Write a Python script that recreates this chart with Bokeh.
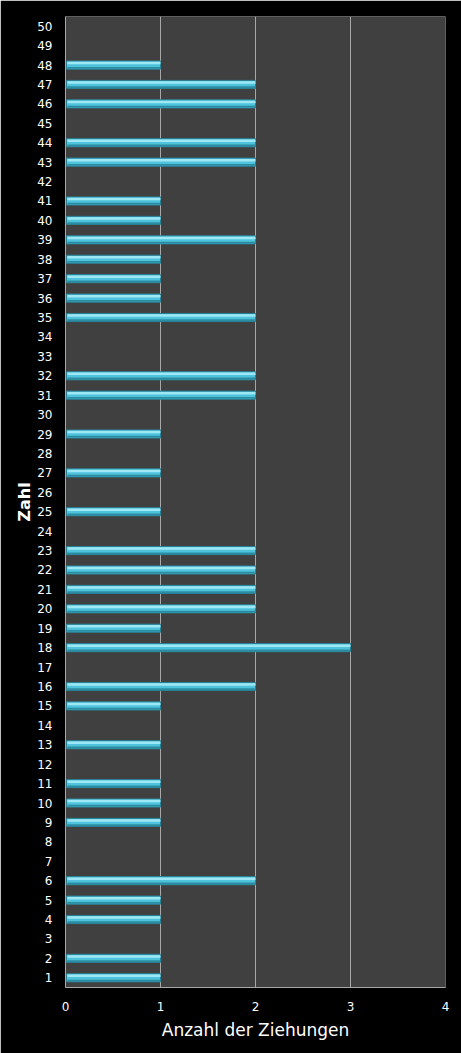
from bokeh.plotting import figure
from bokeh.models import ColumnDataSource, FixedTicker, Range1d
from bokeh.embed import file_html
from bokeh.resources import INLINE

numbers = list(range(1, 51))
counts = [1, 1, 0, 1, 1, 2, 0, 0, 1, 1,
          1, 0, 1, 0, 1, 2, 0, 3, 1, 2,
          2, 2, 2, 0, 1, 0, 1, 0, 1, 0,
          2, 2, 0, 0, 2, 1, 1, 1, 2, 1,
          1, 0, 2, 2, 0, 2, 2, 1, 0, 0]
x_ticks = [0, 1, 2, 3, 4]

ys = [n for n, c in zip(numbers, counts) if c > 0]
rs = [c for c in counts if c > 0]
src = ColumnDataSource(dict(
    y=ys,
    yt=[n + 0.1 for n in ys],
    yb=[n - 0.14 for n in ys],
    right=rs,
))

p = figure(width=461, height=1053, output_backend="svg", toolbar_location=None,
           x_range=Range1d(0, 4), y_range=Range1d(0.5, 50.5),
           background_fill_color="#404040", border_fill_color="black",
           min_border_left=65, min_border_right=16, min_border_top=16, min_border_bottom=66)
p.outline_line_color = None

# bar body with simple shading
p.hbar(y="y", left=0.01, right="right", height=0.42, source=src,
       fill_color="#4ec3db", line_color="#2a7f93", line_width=1)
p.hbar(y="yt", left=0.02, right="right", height=0.13, source=src,
       fill_color="#9ee8f5", line_color=None)
p.hbar(y="yb", left=0.02, right="right", height=0.09, source=src,
       fill_color="#2a8da3", line_color=None)

p.xaxis.ticker = FixedTicker(ticks=x_ticks)
p.yaxis.ticker = FixedTicker(ticks=numbers)
p.xgrid.grid_line_color = "#a8a8a8"
p.xgrid.grid_line_width = 1
p.ygrid.grid_line_color = None

for ax in (p.xaxis[0], p.yaxis[0]):
    ax.axis_line_color = "#a8a8a8"
    ax.major_tick_line_color = None
    ax.minor_tick_line_color = None
    ax.major_tick_out = 0
    ax.major_tick_in = 0
    ax.minor_tick_out = 0
    ax.major_label_text_color = "white"
    ax.major_label_text_font = "DejaVu Sans"
    ax.major_label_text_font_size = "12px"
    ax.axis_label_text_color = "white"
    ax.axis_label_text_font = "DejaVu Sans"
    ax.axis_label_text_font_size = "17px"
    ax.axis_label_text_font_style = "normal"

p.xaxis.axis_label = "Anzahl der Ziehungen"
p.yaxis.axis_label = "Zahl"
p.yaxis.axis_label_text_font_style = "bold"
p.yaxis.axis_label_text_font_size = "16px"
p.xaxis.major_label_standoff = 14
p.xaxis.axis_label_standoff = 6
p.yaxis.major_label_standoff = 13
p.yaxis.axis_label_standoff = 0

html = file_html(p, INLINE)
html = html.replace("<body>", '<body style="background:black">', 1)
open("out.html", "w").write(html)
